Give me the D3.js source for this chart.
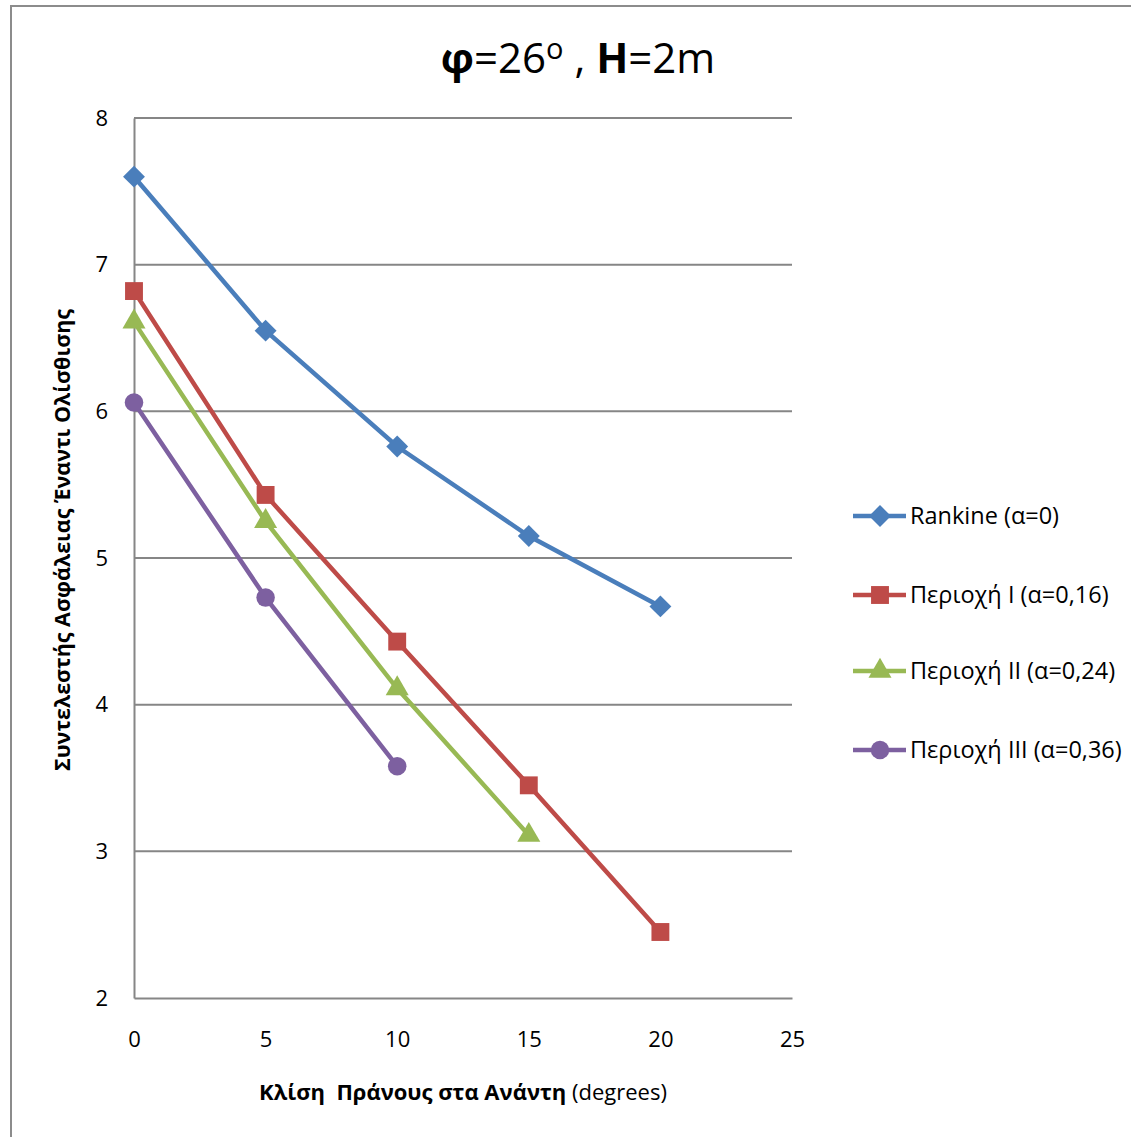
<!DOCTYPE html>
<html>
<head>
<meta charset="utf-8">
<script src="https://cdn.jsdelivr.net/npm/d3@7"></script>
<style>
  body { margin: 0; background: #fff; }
  text { font-family: "Open Sans", "Noto Sans", sans-serif; fill: #000; }
</style>
</head>
<body>
<script>
// data
let slopes = [0, 5, 10, 15, 20];
let rankine = [7.6, 6.55, 5.76, 5.15, 4.67];
let regionI = [6.82, 5.43, 4.43, 3.45, 2.45];
let regionII = [6.61, 5.25, 4.11, 3.11];
let regionIII = [6.06, 4.73, 3.58];
let xTicks = [0, 5, 10, 15, 20, 25];
let yTicks = [2, 3, 4, 5, 6, 7, 8];

// diamond drawn as a square turned 45 degrees
let squareDiamond = {
  draw(ctx, size) {
    let r = Math.sqrt(size / 2);
    ctx.moveTo(0, -r);
    ctx.lineTo(r, 0);
    ctx.lineTo(0, r);
    ctx.lineTo(-r, 0);
    ctx.closePath();
  },
};

let series = [
  { name: "Rankine (α=0)", values: rankine, color: "#4A7EBB", shape: squareDiamond, size: 240 },
  { name: "Περιοχή I (α=0,16)", values: regionI, color: "#BE4B48", shape: d3.symbolSquare, size: 320 },
  { name: "Περιοχή II (α=0,24)", values: regionII, color: "#98B954", shape: d3.symbolTriangle, size: 230 },
  { name: "Περιοχή III (α=0,36)", values: regionIII, color: "#7D60A0", shape: d3.symbolCircle, size: 270 },
];

let w = 1131;
let h = 1137;

let svg = d3.select("body").append("svg").attr("width", w).attr("height", h);

// outer frame (only left and top edges visible)
svg.append("path")
  .attr("d", "M11," + h + " V6 H" + w)
  .attr("fill", "none")
  .attr("stroke", "#8c8c8c")
  .attr("stroke-width", 2);

let xScale = d3.scaleLinear().domain([0, 25]).range([134, 792]);
let yScale = d3.scaleLinear().domain([2, 8]).range([998, 118]);

// grid
svg.append("g")
  .selectAll("line")
  .data(yTicks.slice(1))
  .enter()
  .append("line")
  .attr("x1", xScale(0))
  .attr("x2", xScale(25))
  .attr("y1", (d) => yScale(d))
  .attr("y2", (d) => yScale(d))
  .attr("stroke", "#868686")
  .attr("stroke-width", 2);

let x_axis = d3.axisBottom(xScale).tickValues(xTicks).tickSize(0).tickPadding(33);
let y_axis = d3.axisLeft(yScale).tickValues(yTicks).tickSize(0).tickPadding(26).tickFormat(d3.format("d"));

let gx = svg.append("g")
  .attr("transform", "translate(0," + yScale(2) + ")")
  .call(x_axis);
let gy = svg.append("g")
  .attr("transform", "translate(" + xScale(0) + ",0)")
  .call(y_axis);

[gx, gy].forEach((g) => {
  g.select(".domain").attr("stroke", "#868686").attr("stroke-width", 2);
  g.selectAll("text").style("font-size", "22px").attr("fill", "#000");
});

// lines and markers
let line = d3.line()
  .x((d, i) => xScale(slopes[i]))
  .y((d) => yScale(d));

series.forEach((s) => {
  svg.append("path")
    .datum(s.values)
    .attr("d", line)
    .attr("fill", "none")
    .attr("stroke", s.color)
    .attr("stroke-width", 4.5);

  svg.append("g")
    .selectAll("path")
    .data(s.values)
    .enter()
    .append("path")
    .attr("transform", (d, i) => "translate(" + xScale(slopes[i]) + "," + yScale(d) + ")")
    .attr("d", d3.symbol().type(s.shape).size(s.size))
    .attr("fill", s.color);
});

// legend
let legendY = [516, 595, 671, 750];
let legend = svg.append("g");
series.forEach((s, k) => {
  let g = legend.append("g").attr("transform", "translate(0," + legendY[k] + ")");
  g.append("line")
    .attr("x1", 853).attr("x2", 906)
    .attr("stroke", s.color).attr("stroke-width", 4.5);
  g.append("path")
    .attr("transform", "translate(880,0)")
    .attr("d", d3.symbol().type(s.shape).size(s.size))
    .attr("fill", s.color);
  g.append("text")
    .attr("x", 910)
    .attr("dy", "0.35em")
    .style("font-size", "23.5px")
    .text(s.name);
});

// title
let title = svg.append("text")
  .attr("x", 578)
  .attr("y", 73)
  .attr("text-anchor", "middle")
  .style("font-size", "42px");
title.append("tspan").style("font-weight", "bold").text("φ");
title.append("tspan").text("=26");
title.append("tspan").attr("dy", -14).style("font-size", "29px").text("o");
title.append("tspan").attr("dy", 14).text(" , ");
title.append("tspan").style("font-weight", "bold").text("H");
title.append("tspan").text("=2m");

// axis titles
let xt = svg.append("text")
  .attr("x", 463)
  .attr("y", 1100)
  .attr("text-anchor", "middle")
  .style("font-size", "22px")
  .style("white-space", "pre");
xt.append("tspan").style("font-weight", "bold").text("Κλίση  Πράνους στα Ανάντη");
xt.append("tspan").text(" (degrees)");

svg.append("text")
  .attr("transform", "translate(70,540) rotate(-90)")
  .attr("text-anchor", "middle")
  .style("font-size", "21.5px")
  .style("font-weight", "bold")
  .text("Συντελεστής Ασφάλειας Έναντι Ολίσθισης");
</script>
</body>
</html>
